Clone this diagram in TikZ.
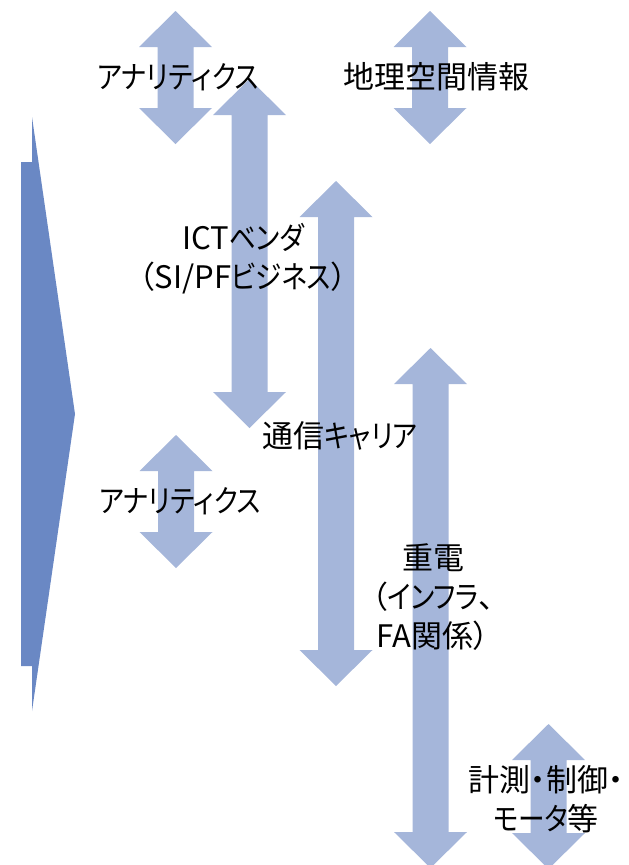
\documentclass[tikz,border=0pt]{standalone}
\usepackage{fontspec}
\setmainfont{Noto Sans CJK JP}[RawFeature=+palt]
\newfontfamily\kana{Noto Sans CJK JP}[RawFeature=+palt,FakeStretch=0.86]
\definecolor{arrowblue}{HTML}{A5B6DA}
\definecolor{chevblue}{HTML}{6A88C4}
\newcommand\dblarr[4]{% name, center x, top y, bottom y
  \fill[arrowblue] (#2,#3) -- ++(36.5,36) -- ++(-18.5,0) -- (#2+18,#4-36) -- ++(18.5,0)
    -- (#2,#4) -- ++(-36.5,-36) -- ++(18.5,0) -- (#2-18,#3+36) -- ++(-18.5,0) -- cycle;
  \coordinate (#1) at (#2,{(#3+#4)/2});
}
\tikzset{lbl/.style={inner sep=0pt,align=center,font=\fontsize{31}{39}\selectfont,text=black}}
\begin{document}
\begin{tikzpicture}[x=1pt,y=-1pt]
\useasboundingbox (0,0) rectangle (629,865);
% left chevron
\fill[chevblue] (21,162) -- (32,162) -- (32,117) -- (75,414) -- (32,711) -- (32,666) -- (21,666) -- cycle;
% double arrows
\dblarr{arrA}{175.5}{11}{144}
\dblarr{arrGeo}{430}{11}{144}
\dblarr{arrICT}{249.5}{79}{428}
\dblarr{arrTel}{336}{181}{686}
\dblarr{arrHeavy}{430.5}{348}{868}
\dblarr{arrB}{176}{435}{568}
\dblarr{arrMeas}{548.5}{724}{869}
% labels
\node[lbl] (tA) at (178,77) {{\kana アナリティクス}};
\node[lbl] (tGeo) at (436,77) {地理空間情報};
\node[lbl] (tICT) at (243,259) {ICT{\kana ベンダ}\\（SI/PF{\kana ビジネス}）};
\node[lbl] (tTel) at (340,436) {通信{\kana キャリア}};
\node[lbl] (tB) at (180,501) {{\kana アナリティクス}};
\node[lbl] (tHeavy) at (433,597) {重電\\（{\kana インフラ}、\\FA関係）};
\node[lbl] (tMeas) at (546,799) {計測・制御・\\{\kana モータ}等};
\end{tikzpicture}
\end{document}
